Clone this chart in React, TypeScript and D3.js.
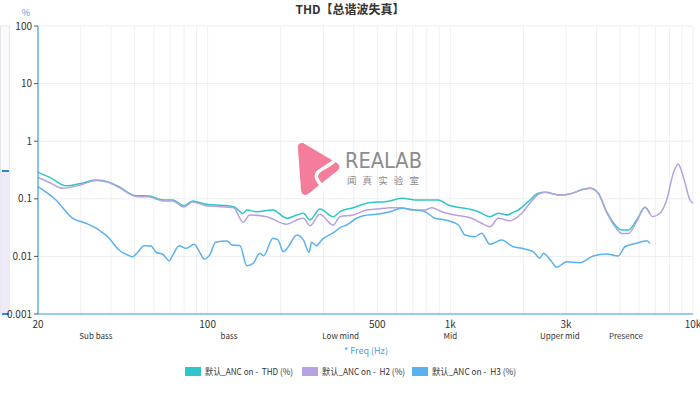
import * as d3 from 'd3';

// ---- data (Hz, %) ----
const thdData: [number, number][] = [
  [20, 0.288], [22.4, 0.235], [26.1, 0.168], [30, 0.185], [34.7, 0.212], [39.2, 0.195],
  [43.1, 0.162], [50.7, 0.113], [57.3, 0.112], [65.3, 0.0953], [71.8, 0.0953], [79.9, 0.0759],
  [86.8, 0.0916], [98.4, 0.0803], [108, 0.078], [128, 0.0729], [140, 0.056], [145, 0.0639],
  [159, 0.0597], [186, 0.0639], [212, 0.0459], [233, 0.0523], [248, 0.056], [264, 0.0429],
  [290, 0.0665], [329, 0.0489], [351, 0.0597], [398, 0.0701], [452, 0.0836], [564, 0.0916],
  [630, 0.102], [738, 0.0953], [892, 0.0953], [981, 0.078], [1149, 0.0684], [1205, 0.0658],
  [1304, 0.0597], [1457, 0.0489], [1576, 0.056], [1733, 0.0523], [1761, 0.0545], [1906, 0.0639],
  [2094, 0.0891], [2304, 0.125], [2455, 0.13], [2830, 0.116], [3112, 0.121], [3532, 0.146],
  [3764, 0.152], [4070, 0.125], [4406, 0.0597], [4848, 0.0328], [5082, 0.0287], [5411, 0.0287],
  [5861, 0.0429], [6340, 0.0712], [6648, 0.055],
];

const h2Data: [number, number][] = [
  [20, 0.236], [22.4, 0.19], [25.3, 0.152], [30, 0.175], [34.7, 0.208], [39.2, 0.192],
  [43.1, 0.158], [50.7, 0.11], [57.3, 0.108], [65.3, 0.092], [71.8, 0.092], [79.9, 0.072],
  [86.8, 0.088], [98.4, 0.076], [108, 0.074], [128, 0.07], [140, 0.0391], [149, 0.0523],
  [175, 0.0489], [212, 0.0361], [233, 0.0429], [248, 0.046], [264, 0.0341], [290, 0.0538],
  [329, 0.0351], [351, 0.0489], [398, 0.0523], [452, 0.0639], [538, 0.0684], [564, 0.0701],
  [630, 0.0701], [693, 0.0639], [786, 0.0639], [838, 0.0701], [921, 0.0597], [1045, 0.0523],
  [1224, 0.0459], [1346, 0.0376], [1457, 0.0328], [1576, 0.0459], [1761, 0.0417], [1936, 0.0523],
  [2129, 0.0836], [2304, 0.12], [2455, 0.13], [2830, 0.116], [3112, 0.121], [3532, 0.146],
  [3764, 0.152], [4070, 0.125], [4406, 0.058], [4848, 0.03], [5082, 0.025], [5411, 0.025],
  [5861, 0.04], [6340, 0.0712], [6820, 0.0489], [7310, 0.056], [7788, 0.0953], [8294, 0.277],
  [8692, 0.402], [9119, 0.242], [9718, 0.0953], [10000, 0.0836],
];

const h3Data: [number, number][] = [
  [20, 0.162], [23.7, 0.0953], [27.8, 0.0459], [31.5, 0.0376], [35.7, 0.0287], [39.2, 0.0209],
  [43.1, 0.0129], [46.1, 0.0109], [49.1, 0.00988], [51.5, 0.0118], [54.7, 0.0153], [58.4, 0.0152],
  [61.3, 0.0118], [65.3, 0.0109], [69.5, 0.00842], [71.8, 0.0105], [76.4, 0.0153], [81.5, 0.0138],
  [88.1, 0.0162], [92.4, 0.0121], [96.9, 0.00901], [101.6, 0.0103], [108, 0.0176], [120, 0.0185],
  [126, 0.0158], [136, 0.0153], [145, 0.0069], [154, 0.00759], [164, 0.0113], [170, 0.0103],
  [186, 0.0206], [195, 0.0193], [205, 0.0121], [215, 0.0147], [233, 0.0235], [248, 0.0193],
  [262, 0.0118], [268, 0.0176], [281, 0.0153], [295, 0.0193], [335, 0.0269], [351, 0.0315],
  [374, 0.0351], [411, 0.0459], [438, 0.0509], [497, 0.0538], [564, 0.0597], [630, 0.0684],
  [715, 0.0639], [786, 0.0597], [865, 0.0459], [951, 0.0429], [1079, 0.0351], [1149, 0.0235],
  [1264, 0.022], [1346, 0.0252], [1457, 0.0162], [1628, 0.0193], [1817, 0.0147], [1968, 0.0138],
  [2195, 0.0121], [2342, 0.00927], [2416, 0.0113], [2617, 0.00809], [2742, 0.00647], [3016, 0.00809],
  [3422, 0.00778], [3882, 0.0102], [4406, 0.011], [4920, 0.0102], [5244, 0.0147], [5861, 0.0169],
  [6442, 0.0187], [6648, 0.0169],
];

const yTicks = [0.001, 0.01, 0.1, 1, 10, 100];
const yTickLabels = ['0.001', '0.01', '0.1', '1', '10', '100'];
const xTicks = [20, 100, 500, 1000, 3000, 10000];
const xTickLabels = ['20', '100', '500', '1k', '3k', '10k'];
const bandNames = ['Sub bass', 'bass', 'Low mind', 'Mid', 'Upper mid', 'Presence'];
const bandEdges = [20, 60, 250, 500, 2000, 4000, 7000];

const seriesNames = ['默认_ANC on -  THD (%)', '默认_ANC on -  H2 (%)', '默认_ANC on -  H3 (%)'];
const COLORS = ['#2ec7c9', '#b6a2de', '#5ab1ef'];

const W = 700, H = 403;
const M = { left: 38, right: 693, top: 26, bottom: 314 };
const FONT = '"Noto Sans CJK SC", "Noto Sans", sans-serif';
const AXIS = '#3fa2e0';

export default function App() {
  const x = d3.scaleLog().domain([20, 10000]).range([M.left, M.right]);
  const y = d3.scaleLog().domain([0.001, 100]).range([M.bottom, M.top]);

  const line = d3.line<[number, number]>()
    .x(d => x(d[0]))
    .y(d => y(d[1]))
    .curve(d3.curveMonotoneX);

  // log grid: every 1..9 multiple in each decade
  const vGrid: number[] = [];
  for (let dec = 10; dec <= 10000; dec *= 10) {
    for (let m = 1; m <= 9; m++) {
      const f = dec * m;
      if (f >= 20 && f <= 10000) vGrid.push(f);
    }
  }

  const series = [thdData, h2Data, h3Data];
  // legend item left edges and label widths
  const legendX = [185, 302, 412];
  const legendW = [88, 83, 84];

  return (
    <svg width={W} height={H} style={{ position: 'absolute', left: 0, top: 0, fontFamily: FONT }}>
      <rect width={W} height={H} fill="#fff" />

      {/* title */}
      <text x={350} y={14} textAnchor="middle" fontSize={12} fontWeight={700} fill="#333">THD【总谐波失真】</text>

      {/* vertical data zoom slider */}
      <rect x={0.5} y={M.top} width={9} height={M.bottom - M.top} fill="#fafafd" stroke="#e6e6ef" />
      <rect x={0.5} y={171} width={9} height={M.bottom - 171} fill="#eeebf8" />
      <line x1={2} x2={9} y1={171} y2={171} stroke="#2b8ad6" strokeWidth={2} />
      <line x1={2} x2={9} y1={M.bottom} y2={M.bottom} stroke="#2b8ad6" strokeWidth={2} />

      {/* grid */}
      {vGrid.map(f => (
        <line key={'v' + f} x1={x(f)} x2={x(f)} y1={M.top} y2={M.bottom} stroke="#f0f0f5" />
      ))}
      {yTicks.map(v => (
        <line key={'h' + v} x1={M.left} x2={M.right} y1={y(v)} y2={y(v)} stroke="#eeeeee" />
      ))}

      {/* watermark logo */}
      <g>
        <path d="M303,143 Q297,142 298,149 L301,190 Q302,197 308,194 L337,171 Q342,167 337,163 Z" fill="#f47d9b" />
        <path d="M335,160 C327,169 313,170 317,179 C320,185 325,189 329,195" fill="none" stroke="#fff" strokeWidth={3.5} strokeLinecap="round" />
        <text x={345} y={168} fontSize={21} fill="#8c8c8c" textLength={77} lengthAdjust="spacingAndGlyphs" fontFamily='"DejaVu Sans", sans-serif'>REALAB</text>
        <text x={347} y={184} fontSize={9.5} fill="#8c8c8c" textLength={72} lengthAdjust="spacing">闻真实验室</text>
      </g>

      {/* series */}
      {series.map((d, i) => (
        <path key={i} d={line(d) ?? ''} fill="none" stroke={COLORS[i]} strokeWidth={1.5} strokeLinejoin="round" />
      ))}

      {/* axes */}
      <line x1={M.left} x2={M.left} y1={M.top} y2={M.bottom} stroke={AXIS} strokeWidth={1.2} />
      <line x1={M.left} x2={M.right} y1={M.bottom} y2={M.bottom} stroke={AXIS} strokeWidth={1.2} />
      {yTicks.map((v, i) => (
        <g key={'yt' + v}>
          <line x1={M.left - 4} x2={M.left} y1={y(v)} y2={y(v)} stroke="#555" />
          <text x={M.left - 6} y={y(v) + 3.5} textAnchor="end" fontSize={10} fill="#333">{yTickLabels[i]}</text>
        </g>
      ))}
      <text x={26} y={16} textAnchor="middle" fontSize={9} fill={AXIS}>%</text>

      {xTicks.map((f, i) => (
        <text key={'xt' + f} x={x(f)} y={328} textAnchor="middle" fontSize={10} fill="#333">{xTickLabels[i]}</text>
      ))}
      {bandNames.map((n, i) => (
        <text key={n} x={x(Math.sqrt(bandEdges[i] * bandEdges[i + 1]))} y={339} textAnchor="middle" fontSize={8} fill="#333">{n}</text>
      ))}
      <text x={366} y={354} textAnchor="middle" fontSize={9} fill={AXIS}>* Freq (Hz)</text>

      {/* legend */}
      {seriesNames.map((n, i) => (
        <g key={n} transform={`translate(${legendX[i]},367)`}>
          <rect x={0} y={0} width={16} height={9} fill={COLORS[i]} />
          <text x={20} y={8} fontSize={9} fill="#333" textLength={legendW[i]} lengthAdjust="spacingAndGlyphs" style={{ whiteSpace: 'pre' }}>{n}</text>
        </g>
      ))}
    </svg>
  );
}
